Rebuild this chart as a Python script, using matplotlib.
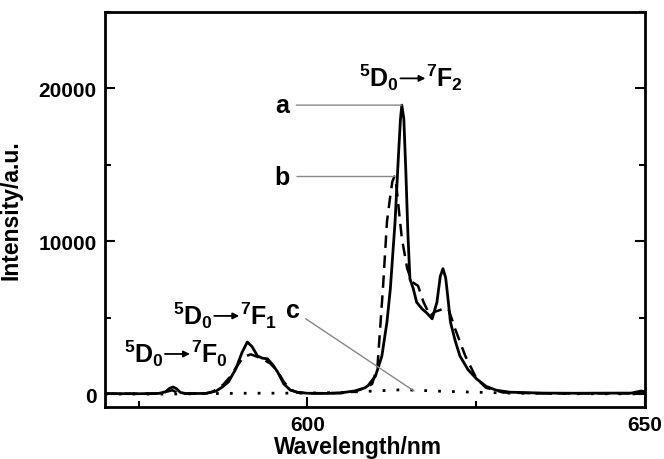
import numpy as np
import matplotlib
matplotlib.use('Agg')
import matplotlib.pyplot as plt
from matplotlib.ticker import MultipleLocator, FixedLocator

plt.rcParams['font.family'] = ['Liberation Sans', 'DejaVu Sans']
plt.rcParams['font.weight'] = 'bold'
plt.rcParams['mathtext.fontset'] = 'custom'
plt.rcParams['mathtext.rm'] = 'Liberation Sans:bold'
plt.rcParams['mathtext.it'] = 'Liberation Sans:bold'
plt.rcParams['mathtext.bf'] = 'Liberation Sans:bold'

# curve a (solid)
wl_a = [570, 575, 578, 579, 579.6, 580.1, 580.6, 581.2, 582, 585, 586.5, 587.4, 588.3,
        589.4, 590.3, 591.1, 591.8, 592.6, 593.3, 594.1, 594.9, 595.6, 596.5, 597.5,
        598.5, 600, 603, 605, 607, 608.5, 609.0, 610.1, 611.05, 611.8, 612.3, 613.0,
        613.5, 613.8, 614.0, 614.3, 614.6, 614.9, 615.2, 615.7, 616.2, 617.0, 617.7,
        618.5, 619.2, 619.7, 620.1, 620.5, 620.9, 621.2, 621.9, 622.6, 623.8, 625.1,
        626.5, 628, 630, 635, 640, 645, 648, 649.5, 650]
int_a = [30, 20, 40, 150, 380, 460, 350, 100, 30, 40, 200, 460, 790,
         1640, 2700, 3400, 3100, 2500, 2350, 2300, 1900, 1440, 660, 250,
         120, 50, 40, 80, 200, 400, 550, 1180, 2500, 4720, 6890, 11280,
         15600, 18000, 18900, 18000, 14500, 10500, 7540, 6890, 6000, 5570, 5300,
         4920, 6000, 7700, 8200, 7600, 6000, 4720, 3500, 2500, 1600, 980,
         500, 250, 120, 60, 50, 60, 60, 200, 150]

# curve b (dashed)
wl_b = [570, 578, 580, 581, 585, 586, 587.5, 588.5, 589.5, 590.5, 591.6, 592.5, 593.5,
        594.5, 595.6, 596.5, 597.5, 598.5, 600, 605, 607, 608.5, 609.6, 610.4, 611.2,
        611.8, 612.3, 612.6, 612.9, 613.2, 613.5, 614.0, 614.8, 615.5, 616.4, 617.2,
        618.2, 618.9, 620.0, 620.9, 621.9, 623.4, 625.1, 626.5, 627.5, 629, 635, 650]
int_b = [20, 20, 250, 20, 50, 150, 600, 1100, 1770, 2400, 2600, 2450, 2250,
         2000, 1500, 800, 300, 100, 50, 60, 150, 400, 650, 1840, 6890,
         11280, 13000, 13900, 14230, 13600, 12300, 10200, 8200, 7340, 7080, 6030,
         5110, 5380, 5550, 5570, 4260, 2500, 980, 400, 300, 100, 40, 40]

# curve c (dotted)
wl_c = [570, 580, 590, 600, 605, 610, 614, 616, 620, 625, 630, 640, 650]
int_c = [0, 0, 50, 60, 100, 200, 280, 250, 180, 120, 60, 20, 10]

# transition labels: arrow head position (nm, intensity) and final level
trans_x = [617.5, 589.9, 582.6]
trans_y = [20650, 5110, 2620]
trans_j = [2, 1, 0]

fig = plt.figure(figsize=(6.64, 4.60), dpi=100)
ax = fig.add_axes([0.158, 0.113, 0.813, 0.859])

ax.plot(wl_a, int_a, color='black', lw=2.0, solid_joinstyle='round')
ax.plot(wl_b, int_b, color='black', lw=1.8, linestyle=(0, (5, 3)))
ax.plot(wl_c, int_c, color='black', lw=2.0, linestyle=(0, (1, 4)))

ax.set_xlim(570, 650)
ax.set_ylim(-850, 25000)

ax.xaxis.set_major_locator(FixedLocator([600, 650]))
ax.xaxis.set_minor_locator(FixedLocator([575, 625]))
ax.yaxis.set_major_locator(MultipleLocator(10000))
ax.yaxis.set_minor_locator(MultipleLocator(5000))
ax.tick_params(which='both', direction='in', top=False, right=True, width=1.5)
ax.tick_params(which='major', length=7, labelsize=15, pad=6)
ax.tick_params(which='minor', length=4)
for s in ax.spines.values():
    s.set_linewidth(2)

ax.set_xlabel('Wavelength/nm', fontsize=16.5, fontweight='bold')
ax.set_ylabel('Intensity/a.u.', fontsize=16.5, fontweight='bold')
ax.xaxis.set_label_coords(0.468, -0.072)
ax.yaxis.set_label_coords(-0.152, 0.5)

# peak labels with leader lines
ia = int(np.argmax(int_a))
ib = int(np.argmax(int_b))
line = dict(arrowstyle='-', color='#888888', lw=1.0, shrinkA=3, shrinkB=0)
ax.annotate('a', xy=(wl_a[ia], int_a[ia]), xytext=(596.3, int_a[ia]),
            fontsize=18, fontweight='bold', ha='center', va='center', arrowprops=line)
ax.annotate('b', xy=(wl_b[ib], int_b[ib]), xytext=(596.3, int_b[ib]),
            fontsize=18, fontweight='bold', ha='center', va='center', arrowprops=line)
ax.annotate('c', xy=(615.8, 200), xytext=(597.8, 5500),
            fontsize=18, fontweight='bold', ha='center', va='center', arrowprops=line)

# 5D0 -> 7Fj, arrow drawn separately (no long arrow glyph in the font)
arr = dict(arrowstyle='-|>', color='black', lw=1.3, mutation_scale=9,
           shrinkA=0, shrinkB=0)
for x, y, j in zip(trans_x, trans_y, trans_j):
    ax.annotate('', xy=(x, y), xytext=(-18, 0), textcoords='offset points',
                arrowprops=arr)
    ax.annotate(r'$^{5}D_{0}$', xy=(x, y), xytext=(-19, 1), textcoords='offset points',
                ha='right', va='center', fontsize=18)
    ax.annotate(r'$^{7}F_{%d}$' % j, xy=(x, y), xytext=(0.5, 1), textcoords='offset points',
                ha='left', va='center', fontsize=18)

fig.savefig('out.png', dpi=100)
